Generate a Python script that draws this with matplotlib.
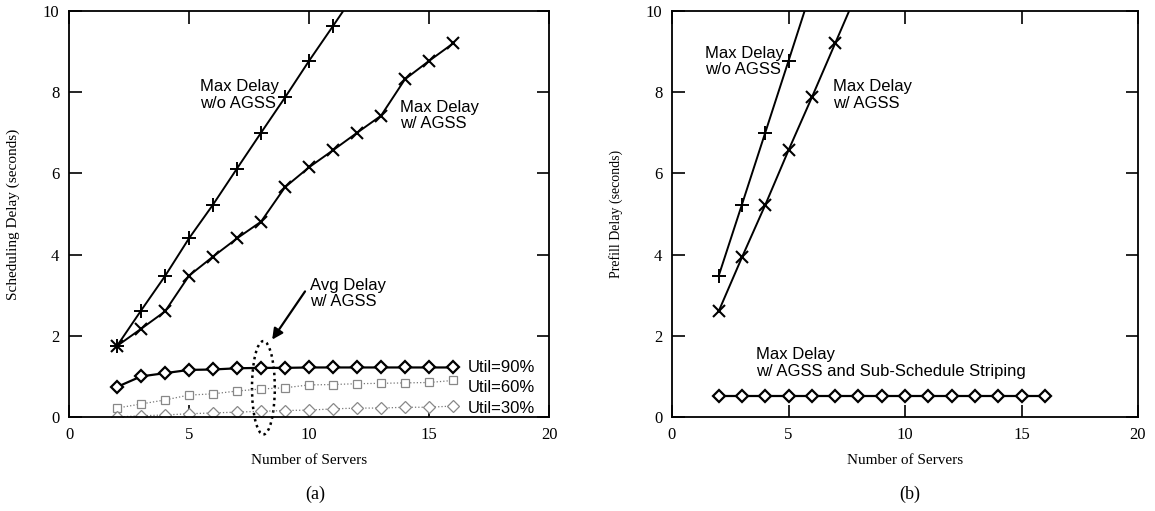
import matplotlib
matplotlib.use("Agg")
import matplotlib.pyplot as plt
from matplotlib.patches import Ellipse

# ---------------- data ----------------
servers_a_nogss = [2, 3, 4, 5, 6, 7, 8, 9, 10, 11, 12]
delay_a_nogss = [1.75, 2.62, 3.47, 4.4, 5.23, 6.12, 7.0, 7.87, 8.77, 9.63, 10.5]

servers_a_agss = [2, 3, 4, 5, 6, 7, 8, 9, 10, 11, 12, 13, 14, 15, 16]
delay_a_agss = [1.75, 2.17, 2.6, 3.48, 3.95, 4.4, 4.81, 5.66, 6.15, 6.57, 7.0, 7.42, 8.32, 8.77, 9.2]

servers_util = [2, 3, 4, 5, 6, 7, 8, 9, 10, 11, 12, 13, 14, 15, 16]
util90 = [0.74, 1.0, 1.08, 1.16, 1.17, 1.2, 1.21, 1.21, 1.22, 1.22, 1.22, 1.22, 1.22, 1.22, 1.22]
util60 = [0.22, 0.32, 0.42, 0.54, 0.57, 0.64, 0.69, 0.72, 0.79, 0.8, 0.82, 0.83, 0.84, 0.85, 0.9]
util30 = [0.0, 0.03, 0.05, 0.08, 0.1, 0.12, 0.14, 0.16, 0.17, 0.2, 0.22, 0.22, 0.24, 0.24, 0.27]

servers_b_nogss = [2, 3, 4, 5, 6]
delay_b_nogss = [3.47, 5.23, 7.0, 8.77, 10.55]

servers_b_agss = [2, 3, 4, 5, 6, 7, 8]
delay_b_agss = [2.6, 3.93, 5.22, 6.57, 7.87, 9.2, 10.53]

servers_b_stripe = [2, 3, 4, 5, 6, 7, 8, 9, 10, 11, 12, 13, 14, 15, 16]
delay_b_stripe = [0.52] * 15

xticks = [0, 5, 10, 15, 20]
yticks = [0, 2, 4, 6, 8, 10]

# ---------------- figure ----------------
fig = plt.figure(figsize=(11.55, 5.11), dpi=100)
axa = fig.add_axes([69 / 1155, 94 / 511, 480 / 1155, 406 / 511])
axb = fig.add_axes([672 / 1155, 94 / 511, 466 / 1155, 406 / 511])

serif = "Liberation Serif"
sans = "Liberation Sans"
afs = 12  # annotation font size

for ax in (axa, axb):
    ax.set_xlim(0, 20)
    ax.set_ylim(0, 10)
    ax.set_xticks(xticks)
    ax.set_yticks(yticks)
    ax.tick_params(direction="in", length=9, width=1.2, top=True, right=True,
                   labelsize=12, pad=7)
    for lab in ax.get_xticklabels() + ax.get_yticklabels():
        lab.set_fontfamily(serif)
    for sp in ax.spines.values():
        sp.set_linewidth(1.3)
    ax.set_xlabel("Number of Servers", fontfamily=serif, fontsize=11, labelpad=8)

lw = 1.4
# ---- panel (a) ----
axa.plot(servers_a_nogss, delay_a_nogss, color="black", lw=lw, marker="+",
         ms=10, mew=1.4)
axa.plot(servers_a_agss, delay_a_agss, color="black", lw=lw, marker="x",
         ms=9, mew=1.5)
axa.plot(servers_util, util90, color="black", lw=1.6, marker="D", ms=6.5,
         mfc="white", mec="black", mew=1.6)
axa.plot(servers_util, util60, color="#777777", lw=0.9, ls=":", marker="s",
         ms=6, mfc="white", mec="#888888", mew=0.9)
axa.plot(servers_util, util30, color="#777777", lw=0.9, ls=":", marker="D",
         ms=6, mfc="white", mec="#888888", mew=0.9)

axa.set_ylabel("Scheduling Delay (seconds)", fontfamily=serif, fontsize=11,
               labelpad=16)

axa.text(5.45, 7.93, "Max Delay\nw/o AGSS", fontfamily=sans, fontsize=afs,
         va="center", ha="left", linespacing=1.1)
axa.text(13.8, 7.43, "Max Delay\nw/ AGSS", fontfamily=sans, fontsize=afs,
         va="center", ha="left", linespacing=1.1)
axa.text(10.05, 3.04, "Avg Delay\nw/ AGSS", fontfamily=sans, fontsize=afs,
         va="center", ha="left", linespacing=1.1)
axa.annotate("", xy=(8.4, 1.85), xytext=(9.9, 3.15),
             arrowprops=dict(arrowstyle="-|>", color="black", lw=1.6,
                             mutation_scale=16))
ell = Ellipse((8.1, 0.72), width=0.95, height=2.3, fill=False, ls=(0, (1, 1.5)),
              lw=1.8, ec="black", clip_on=False)
axa.add_patch(ell)
axa.text(16.6, 1.21, "Util=90%", fontfamily=sans, fontsize=afs, va="center")
axa.text(16.6, 0.72, "Util=60%", fontfamily=sans, fontsize=afs, va="center")
axa.text(16.6, 0.22, "Util=30%", fontfamily=sans, fontsize=afs, va="center")

# ---- panel (b) ----
axb.plot(servers_b_nogss, delay_b_nogss, color="black", lw=lw, marker="+",
         ms=10, mew=1.4)
axb.plot(servers_b_agss, delay_b_agss, color="black", lw=lw, marker="x",
         ms=9, mew=1.5)
axb.plot(servers_b_stripe, delay_b_stripe, color="black", lw=1.6, marker="D",
         ms=6.5, mfc="white", mec="black", mew=1.6)
axb.set_ylabel("Prefill Delay (seconds)", fontfamily=serif, fontsize=10,
               labelpad=16)
axb.text(1.4, 8.75, "Max Delay\nw/o AGSS", fontfamily=sans, fontsize=afs,
         va="center", ha="left", linespacing=1.1)
axb.text(6.9, 7.93, "Max Delay\nw/ AGSS", fontfamily=sans, fontsize=afs,
         va="center", ha="left", linespacing=1.1)
axb.text(3.6, 1.33, "Max Delay\nw/ AGSS and Sub-Schedule Striping", fontfamily=sans,
         fontsize=afs, va="center", ha="left", linespacing=1.1)

fig.text(315 / 1155, 1 - 494 / 511, "(a)", fontfamily=serif, fontsize=13,
         ha="center", va="center")
fig.text(910 / 1155, 1 - 494 / 511, "(b)", fontfamily=serif, fontsize=13,
         ha="center", va="center")

fig.savefig("out.png", dpi=100)
